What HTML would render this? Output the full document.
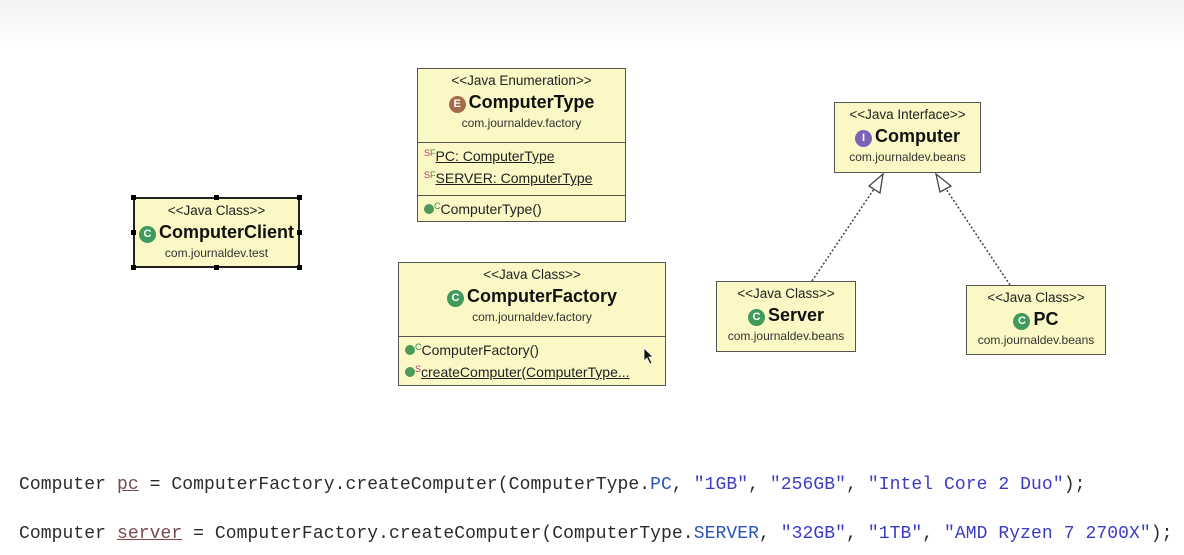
<!DOCTYPE html>
<html><head><meta charset="utf-8"><style>
body{margin:0;width:1184px;height:555px;position:relative;overflow:hidden;background:#fff;font-family:"Liberation Sans",sans-serif;}
.top{position:absolute;left:0;top:0;width:1184px;height:45px;background:linear-gradient(#f3f3f3,#fff);}
.box{position:absolute;background:#fbf8c6;border:1.5px solid #555;box-sizing:border-box;color:#222;overflow:hidden;}
.hd{text-align:center;}
.st{font-size:13.5px;margin-top:4px;line-height:16px;}
.nm{font-size:18px;font-weight:bold;line-height:26px;color:#111;}
.pk{font-size:12px;line-height:16px;color:#333;}
.ic{display:inline-block;width:17px;height:17px;border-radius:50%;color:#fff;font-size:11px;line-height:17px;text-align:center;vertical-align:1px;margin-right:3px;font-weight:bold;}
.sec{border-top:1.5px solid #555;font-size:14px;padding-left:6px;}
.sec div{height:22px;line-height:22px;overflow:hidden;}
.u{text-decoration:underline;}
.sm{color:#c03060;font-size:9px;position:relative;top:-5px;line-height:0;}
.dot{display:inline-block;width:10px;height:10px;border-radius:50%;background:#4b9a5a;}
.code{position:absolute;left:19px;font-family:"Liberation Mono",monospace;font-size:18px;color:#2b2b2b;white-space:pre;letter-spacing:0.08px;}
.s{color:#3b3bc4}.k{color:#2a55b5}.v{color:#7a4a4a;text-decoration:underline;}
.h{position:absolute;width:5px;height:5px;background:#000;}
</style></head><body>
<div class="top"></div>

<div class="box" style="left:133px;top:197px;width:167px;height:71px;border-width:2px;border-color:#222;">
 <div class="hd"><div class="st">&lt;&lt;Java Class&gt;&gt;</div>
 <div class="nm"><span class="ic" style="background:#3f9a5c">C</span>ComputerClient</div>
 <div class="pk">com.journaldev.test</div></div>
</div>
<div class="h" style="left:131px;top:195px"></div><div class="h" style="left:214px;top:195px"></div><div class="h" style="left:297px;top:195px"></div>
<div class="h" style="left:131px;top:230px"></div><div class="h" style="left:297px;top:230px"></div>
<div class="h" style="left:131px;top:265px"></div><div class="h" style="left:214px;top:265px"></div><div class="h" style="left:297px;top:265px"></div>

<div class="box" style="left:417px;top:68px;width:209px;height:154px;">
 <div class="hd" style="height:69px"><div class="st">&lt;&lt;Java Enumeration&gt;&gt;</div>
 <div class="nm"><span class="ic" style="background:#a56a4a">E</span>ComputerType</div>
 <div class="pk">com.journaldev.factory</div></div>
 <div class="sec" style="height:53px;padding-top:2px;box-sizing:border-box"><div><span class="sm">S</span><span class="sm" style="color:#3a8a4a;">F</span><span class="u">PC: ComputerType</span></div><div><span class="sm">S</span><span class="sm" style="color:#3a8a4a;">F</span><span class="u">SERVER: ComputerType</span></div></div>
 <div class="sec" style="padding-top:2px"><div><span class="dot"></span><span class="sm" style="color:#3a8a4a">C</span>ComputerType()</div></div>
</div>

<div class="box" style="left:398px;top:262px;width:268px;height:124px;">
 <div class="hd" style="height:69px"><div class="st">&lt;&lt;Java Class&gt;&gt;</div>
 <div class="nm"><span class="ic" style="background:#3f9a5c">C</span>ComputerFactory</div>
 <div class="pk">com.journaldev.factory</div></div>
 <div class="sec" style="padding-top:2px"><div><span class="dot"></span><span class="sm" style="color:#3a8a4a">C</span>ComputerFactory()</div><div><span class="dot"></span><span class="sm">S</span><span class="u">createComputer(ComputerType...</span></div></div>
</div>
<svg style="position:absolute;left:643px;top:347px" width="12" height="18"><path d="M1 1 L1 14 L4 11 L7 17 L9 16 L6 10 L10 10 Z" fill="#111" stroke="#fff" stroke-width="0.8"/></svg>

<div class="box" style="left:834px;top:102px;width:147px;height:71px;">
 <div class="hd"><div class="st">&lt;&lt;Java Interface&gt;&gt;</div>
 <div class="nm"><span class="ic" style="background:#7b64b8">I</span>Computer</div>
 <div class="pk">com.journaldev.beans</div></div>
</div>
<div class="box" style="left:716px;top:281px;width:140px;height:71px;">
 <div class="hd"><div class="st">&lt;&lt;Java Class&gt;&gt;</div>
 <div class="nm"><span class="ic" style="background:#3f9a5c">C</span>Server</div>
 <div class="pk">com.journaldev.beans</div></div>
</div>
<div class="box" style="left:966px;top:285px;width:140px;height:70px;">
 <div class="hd"><div class="st">&lt;&lt;Java Class&gt;&gt;</div>
 <div class="nm"><span class="ic" style="background:#3f9a5c">C</span>PC</div>
 <div class="pk">com.journaldev.beans</div></div>
</div>
<svg style="position:absolute;left:0;top:0" width="1184" height="555">
 <line x1="812" y1="281" x2="876" y2="186" stroke="#444" stroke-width="1.5" stroke-dasharray="2,2"/>
 <polygon points="883,174 869,186 880,193" fill="#fff" stroke="#444" stroke-width="1.3"/>
 <line x1="1010" y1="285" x2="944" y2="186" stroke="#444" stroke-width="1.5" stroke-dasharray="2,2"/>
 <polygon points="936,174 940,192 951,186" fill="#fff" stroke="#444" stroke-width="1.3"/>
</svg>

<div class="code" style="top:475px">Computer <span class="v">pc</span> = ComputerFactory.createComputer(ComputerType.<span class="k">PC</span>, <span class="s">"1GB"</span>, <span class="s">"256GB"</span>, <span class="s">"Intel Core 2 Duo"</span>);</div>
<div class="code" style="top:524px">Computer <span class="v">server</span> = ComputerFactory.createComputer(ComputerType.<span class="k">SERVER</span>, <span class="s">"32GB"</span>, <span class="s">"1TB"</span>, <span class="s">"AMD Ryzen 7 2700X"</span>);</div>
</body></html>
